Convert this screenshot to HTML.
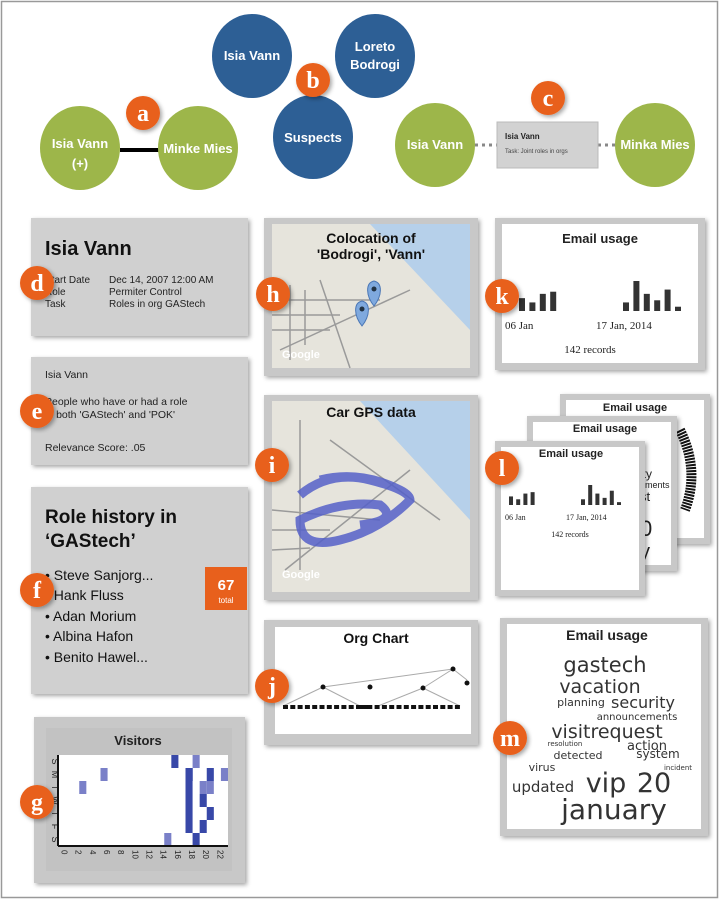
<!DOCTYPE html>
<html><head><meta charset="utf-8"><style>
html,body{margin:0;padding:0;background:#fff}
svg{display:block;font-family:"Liberation Sans",sans-serif}
</style></head><body>
<svg id="root" width="720" height="901" viewBox="0 0 720 901">
<defs>
<filter id="sh" x="-10%" y="-10%" width="125%" height="125%"><feDropShadow dx="2" dy="2" stdDeviation="2" flood-color="#000" flood-opacity="0.35"/></filter>
</defs>
<rect x="1.5" y="1.5" width="716" height="896" fill="#fff" stroke="#999" stroke-width="1.5"/>

<!-- a -->
<g>
<line x1="120" y1="150" x2="160" y2="150" stroke="#000" stroke-width="4"/>
<ellipse cx="80" cy="148" rx="40" ry="42" fill="#9db64a"/>
<ellipse cx="198" cy="148" rx="40" ry="42" fill="#9db64a"/>
<text x="80" y="148" fill="#fff" font-size="13" font-weight="bold" text-anchor="middle">Isia Vann</text>
<text x="80" y="168" fill="#fff" font-size="13" font-weight="bold" text-anchor="middle">(+)</text>
<text x="198" y="153" fill="#fff" font-size="13" font-weight="bold" text-anchor="middle">Minke Mies</text>
</g>
<!-- b -->
<g>
<ellipse cx="252" cy="56" rx="40" ry="42" fill="#2d5f95"/>
<ellipse cx="375" cy="56" rx="40" ry="42" fill="#2d5f95"/>
<ellipse cx="313" cy="137" rx="40" ry="42" fill="#2d5f95"/>
<text x="252" y="60" fill="#fff" font-size="13" font-weight="bold" text-anchor="middle">Isia Vann</text>
<text x="375" y="51" fill="#fff" font-size="13" font-weight="bold" text-anchor="middle">Loreto</text>
<text x="375" y="69" fill="#fff" font-size="13" font-weight="bold" text-anchor="middle">Bodrogi</text>
<text x="313" y="142" fill="#fff" font-size="13" font-weight="bold" text-anchor="middle">Suspects</text>
</g>
<!-- c -->
<g>
<line x1="475" y1="145" x2="497" y2="145" stroke="#888" stroke-width="3" stroke-dasharray="3,4"/>
<line x1="598" y1="145" x2="615" y2="145" stroke="#888" stroke-width="3" stroke-dasharray="3,4"/>
<ellipse cx="435" cy="145" rx="40" ry="42" fill="#9db64a"/>
<ellipse cx="655" cy="145" rx="40" ry="42" fill="#9db64a"/>
<text x="435" y="149" fill="#fff" font-size="13" font-weight="bold" text-anchor="middle">Isia Vann</text>
<text x="655" y="149" fill="#fff" font-size="13" font-weight="bold" text-anchor="middle">Minka Mies</text>
<rect x="497" y="122" width="101" height="46" fill="#d2d2d2" stroke="#bbb"/>
<text x="505" y="139" font-size="8" font-weight="bold" fill="#222">Isia Vann</text>
<text x="505" y="153" font-size="6" fill="#444">Task: Joint roles in orgs</text>
</g>

<!-- d -->
<g>
<rect x="31" y="218" width="217" height="118" fill="#d0d0d0" filter="url(#sh)"/>
<text x="45" y="255" font-size="20" font-weight="bold" fill="#111">Isia Vann</text>
<g font-size="10" fill="#222">
<text x="45" y="283">Start Date</text><text x="109" y="283">Dec 14, 2007 12:00 AM</text>
<text x="45" y="295">Role</text><text x="109" y="295">Permiter Control</text>
<text x="45" y="307">Task</text><text x="109" y="307">Roles in org GAStech</text>
</g></g>
<!-- e -->
<g>
<rect x="31" y="357" width="217" height="108" fill="#d0d0d0" filter="url(#sh)"/>
<g font-size="10.5" fill="#222">
<text x="45" y="378">Isia Vann</text>
<text x="45" y="405">People who have or had a role</text>
<text x="45" y="418">in both 'GAStech' and 'POK'</text>
<text x="45" y="451">Relevance Score: .05</text>
</g></g>
<!-- f -->
<g>
<rect x="31" y="487" width="217" height="207" fill="#d0d0d0" filter="url(#sh)"/>
<text x="45" y="523" font-size="19" font-weight="bold" fill="#111">Role history in</text>
<text x="45" y="547" font-size="19" font-weight="bold" fill="#111">‘GAStech’</text>
<g font-size="14" fill="#111">
<text x="45" y="580">• Steve Sanjorg...</text>
<text x="45" y="600">• Hank Fluss</text>
<text x="45" y="621">• Adan Morium</text>
<text x="45" y="641">• Albina Hafon</text>
<text x="45" y="662">• Benito Hawel...</text>
</g>
<rect x="205" y="567" width="42" height="43" fill="#e8601c"/>
<text x="226" y="590" font-size="15" font-weight="bold" fill="#fff" text-anchor="middle">67</text>
<text x="226" y="603" font-size="8" fill="#fff" text-anchor="middle">total</text>
</g>
<!-- g -->
<g>
<rect x="34" y="717" width="211" height="166" fill="#c8c8c8" filter="url(#sh)"/>
<rect x="46" y="728" width="186" height="143" fill="#c2c2c2"/>
<text x="138" y="745" font-size="13" font-weight="bold" fill="#222" text-anchor="middle">Visitors</text>
<rect x="58" y="755" width="170" height="91" fill="#fff"/>
<g id="heat"></g>
<line x1="58" y1="846" x2="228" y2="846" stroke="#111" stroke-width="2"/>
<line x1="58" y1="755" x2="58" y2="846" stroke="#111" stroke-width="2"/>
</g>

<!-- h -->
<g>
<rect x="264" y="218" width="214" height="158" fill="#c8c8c8" filter="url(#sh)"/>
<rect x="272" y="224" width="198" height="144" fill="#e6e4dc"/>
<polygon points="370,224 470,224 470,330" fill="#b6d0ea"/>
<g stroke="#9a9a9a" stroke-width="1.5" fill="none">
<line x1="272" y1="300" x2="380" y2="300"/><line x1="272" y1="315" x2="340" y2="315"/>
<line x1="272" y1="330" x2="330" y2="330"/><line x1="290" y1="285" x2="290" y2="360"/>
<line x1="305" y1="290" x2="305" y2="345"/><line x1="320" y1="280" x2="350" y2="368"/>
<line x1="280" y1="350" x2="410" y2="290"/>
</g>
<text x="371" y="243" font-size="14" font-weight="bold" fill="#111" text-anchor="middle">Colocation of</text>
<text x="371" y="259" font-size="14" font-weight="bold" fill="#111" text-anchor="middle">'Bodrogi', 'Vann'</text>
<path d="M374 306 C366 296 365 283 374 281 C383 283 382 296 374 306 Z" fill="#7fa9de" stroke="#4a76b5"/>
<circle cx="374" cy="289" r="2.5" fill="#234"/>
<path d="M362 326 C354 316 353 303 362 301 C371 303 370 316 362 326 Z" fill="#7fa9de" stroke="#4a76b5"/>
<circle cx="362" cy="309" r="2.5" fill="#234"/>
<text x="282" y="358" font-size="11" fill="#fff" font-weight="bold">Google</text>
</g>
<!-- i -->
<g>
<rect x="264" y="395" width="214" height="205" fill="#c8c8c8" filter="url(#sh)"/>
<rect x="272" y="401" width="198" height="191" fill="#e6e4dc"/>
<polygon points="360,401 470,401 470,520" fill="#b6d0ea"/>
<g stroke="#9a9a9a" stroke-width="1.5" fill="none">
<line x1="272" y1="510" x2="380" y2="520"/><line x1="272" y1="530" x2="330" y2="530"/>
<line x1="272" y1="550" x2="310" y2="548"/><line x1="300" y1="420" x2="300" y2="570"/>
<line x1="330" y1="440" x2="440" y2="520"/><line x1="285" y1="570" x2="410" y2="470"/>
</g>
<path d="M300 495 Q330 470 370 480 T410 500 Q380 530 340 540 T300 520 Q340 500 380 505 Q400 520 360 525 M320 480 Q360 470 400 490" stroke="#5560c8" stroke-width="9" fill="none" opacity="0.85"/>
<text x="371" y="417" font-size="14" font-weight="bold" fill="#111" text-anchor="middle">Car GPS data</text>
<text x="282" y="578" font-size="11" fill="#fff" font-weight="bold">Google</text>
</g>
<!-- j -->
<g>
<rect x="264" y="620" width="214" height="125" fill="#c8c8c8" filter="url(#sh)"/>
<rect x="275" y="627" width="196" height="107" fill="#fff"/>
<text x="376" y="643" font-size="14" font-weight="bold" fill="#111" text-anchor="middle">Org Chart</text>
<g stroke="#aaa" stroke-width="1"><line x1="453" y1="669" x2="323" y2="687"/><line x1="453" y1="669" x2="423" y2="688"/><line x1="453" y1="669" x2="467" y2="680"/><line x1="323" y1="687" x2="283" y2="706"/><line x1="323" y1="687" x2="360" y2="706"/><line x1="423" y1="688" x2="378" y2="706"/><line x1="423" y1="688" x2="460" y2="706"/></g>
<g id="org" fill="#111"></g>
</g>

<!-- k -->
<g>
<rect x="495" y="218" width="210" height="152" fill="#c8c8c8" filter="url(#sh)"/>
<rect x="502" y="224" width="196" height="139" fill="#fff"/>
<text x="600" y="243" font-size="13" font-weight="bold" fill="#222" text-anchor="middle">Email usage</text>
<g id="kbars" fill="#333"></g>
<text x="505" y="329" font-size="11" fill="#222" font-family="Liberation Serif,serif">06 Jan</text>
<text x="596" y="329" font-size="11" fill="#222" font-family="Liberation Serif,serif">17 Jan, 2014</text>
<text x="590" y="353" font-size="11" fill="#222" text-anchor="middle" font-family="Liberation Serif,serif">142 records</text>
</g>

<!-- l -->
<g>
<rect x="560" y="394" width="150" height="150" fill="#c8c8c8" filter="url(#sh)"/>
<rect x="566" y="400" width="138" height="138" fill="#fff"/>
<text x="635" y="411" font-size="11" font-weight="bold" fill="#222" text-anchor="middle">Email usage</text>
<path d="M680 430 Q700 470 685 510" stroke="#111" stroke-width="10" fill="none" stroke-dasharray="2,1"/>
<rect x="527" y="416" width="150" height="155" fill="#c8c8c8" filter="url(#sh)"/>
<rect x="533" y="422" width="138" height="143" fill="#fff"/>
<text x="605" y="432" font-size="11" font-weight="bold" fill="#222" text-anchor="middle">Email usage</text>
<g font-size="13" fill="#222"><text x="640" y="478" font-size="12">ity</text><text x="640" y="488" font-size="9">ements</text><text x="640" y="501">st</text><text x="640" y="536" font-size="22">0</text><text x="640" y="558" font-size="20">y</text></g>
<rect x="495" y="441" width="150" height="155" fill="#c8c8c8" filter="url(#sh)"/>
<rect x="501" y="447" width="138" height="143" fill="#fff"/>
<text x="571" y="457" font-size="11" font-weight="bold" fill="#222" text-anchor="middle">Email usage</text>
<g id="lbars" fill="#333"></g>
<text x="505" y="520" font-size="8" fill="#222" font-family="Liberation Serif,serif">06 Jan</text>
<text x="566" y="520" font-size="8" fill="#222" font-family="Liberation Serif,serif">17 Jan, 2014</text>
<text x="570" y="537" font-size="8" fill="#222" text-anchor="middle" font-family="Liberation Serif,serif">142 records</text>
</g>

<!-- m -->
<g>
<rect x="500" y="618" width="208" height="218" fill="#c8c8c8" filter="url(#sh)"/>
<rect x="507" y="624" width="194" height="205" fill="#fff"/>
<text x="607" y="640" font-size="14" font-weight="bold" fill="#222" text-anchor="middle">Email usage</text>
<g fill="#333" text-anchor="middle" font-family="DejaVu Sans,sans-serif">
<text x="605" y="672" font-size="21">gastech</text>
<text x="600" y="693" font-size="19">vacation</text>
<text x="581" y="706" font-size="11">planning</text>
<text x="643" y="708" font-size="16">security</text>
<text x="637" y="720" font-size="10">announcements</text>
<text x="607" y="738" font-size="19">visitrequest</text>
<text x="565" y="746" font-size="7">resolution</text>
<text x="647" y="750" font-size="13">action</text>
<text x="578" y="759" font-size="11">detected</text>
<text x="658" y="758" font-size="12">system</text>
<text x="542" y="771" font-size="11">virus</text>
<text x="678" y="770" font-size="7">incident</text>
<text x="543" y="792" font-size="15">updated</text>
<text x="606" y="792" font-size="27">vip</text>
<text x="654" y="792" font-size="27">20</text>
<text x="614" y="819" font-size="28">january</text>
</g></g>

<g id="badges"></g>
</svg>
<script>
const NS='http://www.w3.org/2000/svg';
function mk(tag,attrs,parent){const e=document.createElementNS(NS,tag);for(const k in attrs)e.setAttribute(k,attrs[k]);parent.appendChild(e);return e;}
// Visitors heatmap data
const days=['S','M','T','W','T','F','S'];
const hourTicks=['0','2','4','6','8','10','12','14','16','18','20','22'];
const cellDay=[0,0,1,1,1,1,1,1,1,2,2,2,2,3,3,4,4,5,5,6,6];
const cellHour=[16,19,6,18,21,23,18,18,18,3,20,21,18,20,18,21,18,20,18,15,19];
const cellLevel=[2,1,1,2,2,1,2,2,2,1,1,1,2,2,2,2,2,2,2,1,2];
const heat=document.getElementById('heat');
const px0=58,pw=170,py0=755,ph=91;
const xH=h=>px0+h*pw/24, yD=d=>py0+d*ph/7;
cellDay.forEach((d,i)=>{
 const r=mk('rect',{x:xH(cellHour[i]),y:yD(d),width:pw/24,height:ph/7,fill:cellLevel[i]==2?'#3848a8':'#7a80c8'},heat);
 
 
});
days.forEach((d,i)=>{const t=mk('text',{x:52,y:yD(i)+ph/14,'font-size':9,fill:'#222','text-anchor':'middle',transform:`rotate(90 52 ${yD(i)+ph/14})`},heat);t.textContent=d;
 });
hourTicks.forEach((h,i)=>{const x=xH(+h)+3.5;const t=mk('text',{x:x,y:850,'font-size':8,fill:'#222',transform:`rotate(90 ${x} 850)`},heat);t.textContent=h;
 });
// Email usage bars
const emailCounts=[6,4,8,9,0,0,0,0,0,0,4,14,8,5,10,2];
function bars(g,x0,base,bw,maxH,gap){
 const scale=maxH/Math.max(...emailCounts);
 emailCounts.forEach((v,i)=>{ if(!v)return;
  const r=mk('rect',{x:x0+i*(bw+gap),y:base-v*scale,width:bw,height:v*scale},g);
  
  });
}
bars(document.getElementById('kbars'),519,311,6,30,4.4);
bars(document.getElementById('lbars'),509,505,4,20,3.2);
// org nodes
const org=document.getElementById('org');
const orgLeaves=[[283,706,12],[360,706,14]];
orgLeaves.forEach(([x,y,n])=>{for(let i=0;i<n;i++){const c=mk('rect',{x:x+i*7.3,y:y-1,width:5,height:4},org);}});
[[453,669],[323,687],[370,687],[423,688],[467,683]].forEach(([x,y])=>{const c=mk('circle',{cx:x,cy:y,r:2.5},org);});
// badges
const badgeL=['a','b','c','d','e','f','g','h','i','j','k','l','m'];
const badgeX=[143,313,548,37,37,37,37,273,272,272,502,502,510];
const badgeY=[113,80,98,283,411,590,802,294,465,686,296,468,738];
const bg=document.getElementById('badges');
badgeL.forEach((l,i)=>{
 const c=mk('circle',{cx:badgeX[i],cy:badgeY[i],r:17,fill:'#e8601c',filter:'url(#sh)'},bg);
 
 
 const t=mk('text',{x:badgeX[i],y:badgeY[i]+8,'font-size':24,'font-weight':'bold',fill:'#fff','text-anchor':'middle','font-family':'Liberation Serif,serif'},bg);
 t.textContent=l;
 
 
});
</script>
</body></html>
